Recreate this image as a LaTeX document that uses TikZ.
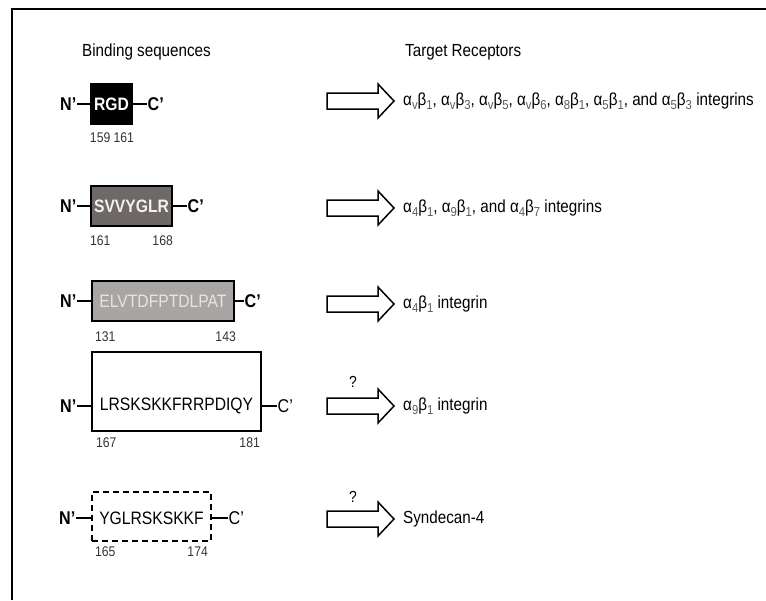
\documentclass[tikz,border=0pt]{standalone}
\usepackage{fontspec}
\setmainfont{Liberation Sans}[FakeStretch=0.87]
\usetikzlibrary{calc}
\newcommand\sbx[1]{\raisebox{-0.25em}{\fontsize{13}{13}\selectfont\color{black!65}#1}}
\definecolor{boxdark}{HTML}{6E6866}
\definecolor{boxlight}{HTML}{A9A5A4}
\tikzset{
  txt/.style={font=\fontsize{17.5}{20}\selectfont, inner sep=0, anchor=west},
  nterm/.style={font=\fontsize{18.5}{20}\selectfont\bfseries, inner sep=0.5pt, anchor=east},
  cterm/.style={font=\fontsize{18.5}{20}\selectfont\bfseries, inner sep=0.5pt, anchor=west},
  cthin/.style={font=\fontsize{18.5}{20}\selectfont, inner sep=0.5pt, anchor=west},
  seq/.style={draw, line width=2pt, inner sep=0, minimum height=40, font=\fontsize{18}{20}\selectfont},
  num/.style={font=\fontsize{14}{16}\selectfont, text=black!80, inner sep=0},
  link/.style={line width=2.2pt},
  qmark/.style={font=\fontsize{16}{18}\selectfont, inner sep=0},
  barrow/.pic={\draw[line width=1.5pt, fill=white, line join=miter] (0,8) -- (51,8) -- (51,17) -- (67,0) -- (51,-17) -- (51,-8) -- (0,-8) -- cycle;}
}
\begin{document}
\begin{tikzpicture}[x=1pt,y=1pt]
\useasboundingbox (0,0) rectangle (766,-600);
% frame
\draw[line width=2pt] (11.5,-600) |- (766,-8.5);
% headers
\node[txt] (h1) at (82,-52) {Binding sequences};
\node[txt] (h2) at (405,-52) {Target Receptors};

% row 1
\node[seq, fill=black, text=white, font=\fontsize{18}{20}\selectfont\bfseries, minimum width=41] (b1) at (111.5,-104) {RGD};
\node[nterm] (n1) at (77,-104) {N’};
\node[cterm] (c1) at (147,-104) {C’};
\draw[link] (n1.east) -- (b1.west);
\draw[link] (b1.east) -- (c1.west);
\node[num] (m1) at (112,-138) {159 161};
\pic (a1) at (327,-101) {barrow};
\node[txt] (r1) at (403,-101) {α\sbx{v}β\sbx{1}, α\sbx{v}β\sbx{3}, α\sbx{v}β\sbx{5}, α\sbx{v}β\sbx{6}, α\sbx{8}β\sbx{1}, α\sbx{5}β\sbx{1}, and α\sbx{5}β\sbx{3} integrins};

% row 2
\node[seq, fill=boxdark, text=white!95!black, font=\fontsize{18}{20}\selectfont\bfseries, minimum width=81] (b2) at (131.5,-206) {SVVYGLR};
\node[nterm] (n2) at (77,-206) {N’};
\node[cterm] (c2) at (187,-206) {C’};
\draw[link] (n2.east) -- (b2.west);
\draw[link] (b2.east) -- (c2.west);
\node[num, anchor=west] (m2a) at (90,-241) {161};
\node[num, anchor=east] (m2b) at (173,-241) {168};
\pic (a2) at (327,-208) {barrow};
\node[txt] (r2) at (403,-208) {α\sbx{4}β\sbx{1}, α\sbx{9}β\sbx{1}, and α\sbx{4}β\sbx{7} integrins};

% row 3
\node[seq, fill=boxlight, text=white!90!black, minimum width=142] (b3) at (163,-301) {ELVTDFPTDLPAT};
\node[nterm] (n3) at (77,-301) {N’};
\node[cterm] (c3) at (244,-301) {C’};
\draw[link] (n3.east) -- (b3.west);
\draw[link] (b3.east) -- (c3.west);
\node[num, anchor=west] (m3a) at (95,-337) {131};
\node[num, anchor=east] (m3b) at (236,-337) {143};
\pic (a3) at (327,-304) {barrow};
\node[txt] (r3) at (403,-304) {α\sbx{4}β\sbx{1} integrin};

% row 4
\node[seq, fill=white, minimum width=169, minimum height=79] (b4) at (176.5,-391.5) {};
\node[inner sep=0, font=\fontsize{18}{20}\selectfont] (t4) at (176.5,-406) {LRSKSKKFRRPDIQY};
\node[nterm] (n4) at (77,-406) {N’};
\node[cthin] (c4) at (277,-406) {C’};
\draw[link] (n4.east) -- (n4.east -| b4.west);
\draw[link] (c4.west -| b4.east) -- (c4.west);
\node[num, anchor=west] (m4a) at (96,-443) {167};
\node[num, anchor=east] (m4b) at (260,-443) {181};
\node[qmark] (q4) at (353,-382) {?};
\pic (a4) at (327,-406) {barrow};
\node[txt] (r4) at (403,-406) {α\sbx{9}β\sbx{1} integrin};

% row 5
\node[seq, dash pattern=on 6pt off 4pt, fill=white, minimum width=119, minimum height=49] (b5) at (151.5,-516.5) {};
\node[inner sep=0, font=\fontsize{18}{20}\selectfont] (t5) at (151.5,-518) {YGLRSKSKKF};
\node[nterm] (n5) at (76,-518) {N’};
\node[cthin] (c5) at (228,-518) {C’};
\draw[link] (n5.east) -- (n5.east -| b5.west);
\draw[link] (c5.west -| b5.east) -- (c5.west);
\node[num, anchor=west] (m5a) at (95,-552) {165};
\node[num, anchor=east] (m5b) at (208,-552) {174};
\node[qmark] (q5) at (353,-497) {?};
\pic (a5) at (327,-519) {barrow};
\node[txt] (r5) at (403,-519) {Syndecan-4};
\end{tikzpicture}
\end{document}
